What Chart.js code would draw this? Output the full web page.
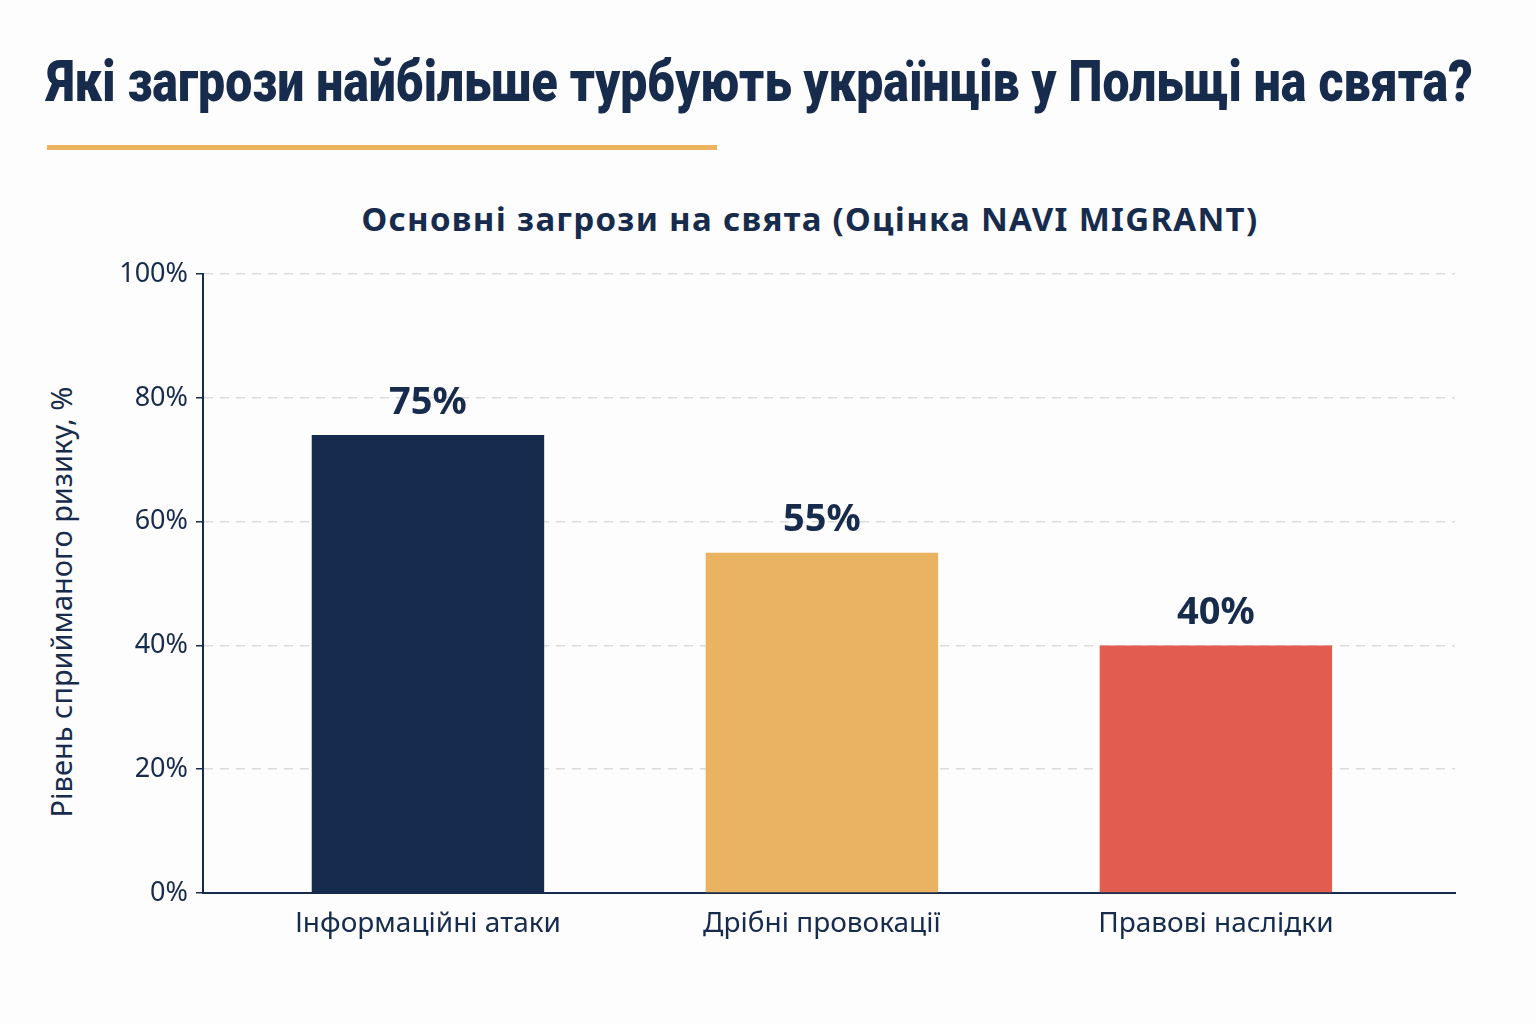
<!DOCTYPE html>
<html lang="uk">
<head>
<meta charset="utf-8">
<title>Які загрози найбільше турбують українців у Польщі на свята?</title>
<script src="https://cdn.jsdelivr.net/npm/chart.js@4.4.1/dist/chart.umd.min.js"></script>
<style>
    html, body {
        margin: 0;
        padding: 0;
        width: 1536px;
        height: 1024px;
        background: #fdfdfd;
        overflow: hidden;
    }
    h1 {
        position: absolute;
        left: 47px;
        top: 46px;
        margin: 0;
        font-family: Roboto, "Noto Sans", sans-serif;
        font-weight: 900;
        font-size: 58px;
        line-height: 70px;
        color: #172b4d;
        white-space: nowrap;
        transform-origin: 0 0;
    }
    .underline {
        position: absolute;
        left: 47px;
        top: 145px;
        width: 670px;
        height: 5px;
        background: #ebb35e;
    }
    .subtitle {
        position: absolute;
        left: 360px;
        width: 900px;
        top: 196px;
        text-align: center;
        font-family: "Noto Sans", sans-serif;
        font-weight: bold;
        font-size: 33px;
        letter-spacing: 1.3px;
        color: #172b4d;
        white-space: nowrap;
    }
    .y-title {
        position: absolute;
        left: 60px;
        top: 602px;
        transform: translate(-50%, -50%) rotate(-90deg);
        font-family: "Noto Sans", sans-serif;
        font-size: 29px;
        color: #172b4d;
        white-space: nowrap;
    }
    .chart-box {
        position: absolute;
        left: 0;
        top: 250px;
        width: 1536px;
        height: 710px;
    }
</style>
</head>
<body>
<h1 id="heading">Які загрози найбільше турбують українців у Польщі на свята?</h1>
<div class="underline"></div>
<div class="subtitle">Основні загрози на свята (Оцінка NAVI MIGRANT)</div>
<div class="y-title">Рівень сприйманого ризику, %</div>
<div class="chart-box"><canvas id="threatChart"></canvas></div>

<script>
// Дані графіка
const categories = ['Інформаційні атаки', 'Дрібні провокації', 'Правові наслідки'];
const riskValues = [74, 55, 40];
const valueLabels = ['75%', '55%', '40%'];
const barColors = ['#162c4e', '#eab361', '#e05d4f'];
const yTicks = [0, 20, 40, 60, 80, 100];

const navy = '#172b4d';

// Заголовок стиснутий по ширині, як у вузькому шрифті
const heading = document.getElementById('heading');
heading.style.transform = 'scaleX(' + (1426 / heading.offsetWidth) + ')';

// Підписи над стовпчиками
const valueLabelPlugin = {
    id: 'valueLabels',
    afterDatasetsDraw(chart) {
        const ctx = chart.ctx;
        const meta = chart.getDatasetMeta(0);
        ctx.save();
        ctx.font = 'bold 38px "Noto Sans", sans-serif';
        ctx.fillStyle = navy;
        ctx.textAlign = 'center';
        ctx.textBaseline = 'bottom';
        meta.data.forEach((bar, i) => {
            ctx.fillText(valueLabels[i], bar.x, bar.y - 13);
        });
        ctx.restore();
    }
};

const ctx = document.getElementById('threatChart').getContext('2d');
const threatChart = new Chart(ctx, {
    type: 'bar',
    data: {
        datasets: [{
            data: riskValues.map((v, i) => ({ x: i, y: v })),
            backgroundColor: barColors,
            borderWidth: 0,
            barPercentage: 0.59,
            categoryPercentage: 1
        }]
    },
    options: {
        responsive: true,
        maintainAspectRatio: false,
        animation: false,
        layout: {
            padding: { left: 44, right: 81, top: 22, bottom: 0 }
        },
        plugins: {
            legend: { display: false },
            tooltip: { enabled: false }
        },
        scales: {
            x: {
                type: 'linear',
                offset: false,
                min: -0.571,
                max: 2.607,
                afterBuildTicks(scale) {
                    scale.ticks = categories.map((c, i) => ({ value: i }));
                },
                grid: { display: false, drawTicks: false, offset: false },
                border: { color: navy, width: 2 },
                ticks: {
                    color: navy,
                    padding: 14,
                    autoSkip: false,
                    maxRotation: 0,
                    font: { family: '"Noto Sans", sans-serif', size: 28 },
                    callback: v => categories[v]
                },
                afterFit(scale) { scale.height = 67; }
            },
            y: {
                min: 0,
                max: 100,
                afterBuildTicks(scale) {
                    scale.ticks = yTicks.map(v => ({ value: v }));
                },
                grid: {
                    color: '#dcdcdc',
                    lineWidth: 1.5,
                    tickLength: 7,
                    tickColor: navy,
                    tickBorderDash: [],
                    drawTicks: true
                },
                // у v4 border.dash задає пунктир для ліній сітки
                border: { color: navy, width: 2, dash: [9, 7] },
                ticks: {
                    color: navy,
                    padding: 8,
                    font: { family: '"Noto Sans", sans-serif', size: 27 },
                    callback: v => v + '%'
                },
                afterFit(scale) { scale.width = 159; }
            }
        }
    },
    plugins: [valueLabelPlugin]
});
</script>
</body>
</html>
